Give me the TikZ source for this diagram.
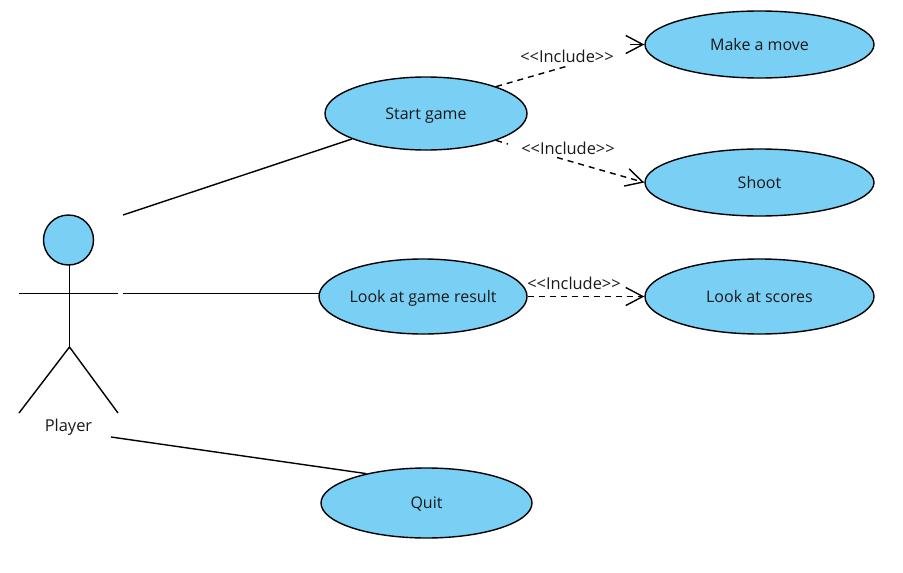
\documentclass[tikz,border=0pt]{standalone}
\usepackage{fontspec}
\setmainfont{Open Sans}
\usetikzlibrary{shapes.geometric,arrows.meta}
\definecolor{ucblue}{RGB}{122,207,245}
\definecolor{ink}{RGB}{25,25,25}
\tikzset{
  usecase/.style={draw=black,fill=ucblue,ellipse,line width=1.4pt,inner sep=0pt,text=ink,text height=11pt,text depth=0pt,font=\fontsize{16}{18}\selectfont},
  assoc/.style={line width=1.4pt,draw=black},
  incl/.style={line width=1.4pt,dash pattern=on 6pt off 5pt},
  inclhead/.style={incl,-{Straight Barb[length=17pt,width=18pt,line width=1.4pt]}},
  lbl/.style={inner sep=0pt,text=ink,font=\fontsize{16.4}{18}\selectfont},
}
\begin{document}
\begin{tikzpicture}[x=1pt,y=-1pt]
\useasboundingbox (0,0) rectangle (903,573);
\node[usecase,minimum width=202pt,minimum height=73pt] (start) at (426,113.5) {Start game};
\node[usecase,minimum width=229pt,minimum height=67pt] (move) at (759.5,44.5) {Make a move};
\node[usecase,minimum width=229pt,minimum height=67pt] (shoot) at (759.5,182.5) {Shoot};
\node[usecase,minimum width=229pt,minimum height=75pt] (scores) at (759.5,296.5) {Look at scores};
\node[usecase,minimum width=208pt,minimum height=75pt] (result) at (423,296.5) {Look at game result};
\node[usecase,minimum width=211pt,minimum height=70pt] (quit) at (426.5,503) {Quit};
% actor
\node[draw=black,fill=ucblue,circle,line width=1.4pt,minimum size=50pt,inner sep=0pt] (head) at (68.5,240) {};
\coordinate (hip) at (69.5,347);
\coordinate (armL) at (19,293.5);
\coordinate (armR) at (118,293.5);
\coordinate (legL) at (19,413);
\coordinate (legR) at (118,413);
\draw[assoc] (69.5,265) -- (hip);
\draw[assoc] (armL) -- (armR);
\draw[assoc] (legL) -- (hip) -- (legR);
\node[lbl] (player) at (68.5,427) {Player};
% associations
\coordinate (a1) at (123,215);
\coordinate (a2) at (123,293.5);
\coordinate (a2e) at (319,293.5);
\coordinate (a3) at (111,437);
\draw[assoc] (a1) -- (start.199);
\draw[assoc] (a2) -- (a2e);
\draw[assoc] (a3) -- (quit.154.8);
% include relations
\coordinate (c1) at (567,66.2);
\coordinate (c2) at (630,44.5);
\coordinate (d2) at (508,144);
\coordinate (d3) at (557,157.5);
\draw[incl] (start.21.3) -- (c1);
\draw[inclhead,dash pattern=] (c2) -- (move.west);
\draw[incl] (start.-21) -- (d2);
\draw[inclhead] (d3) -- (shoot.west);
\draw[inclhead] (result.east) -- (scores.west);
\node[lbl] (l1) at (567,56.5) {<{}<Include>{}>};
\node[lbl] (l2) at (568,148.5) {<{}<Include>{}>};
\node[lbl] (l3) at (574,283.5) {<{}<Include>{}>};
\end{tikzpicture}
\end{document}
